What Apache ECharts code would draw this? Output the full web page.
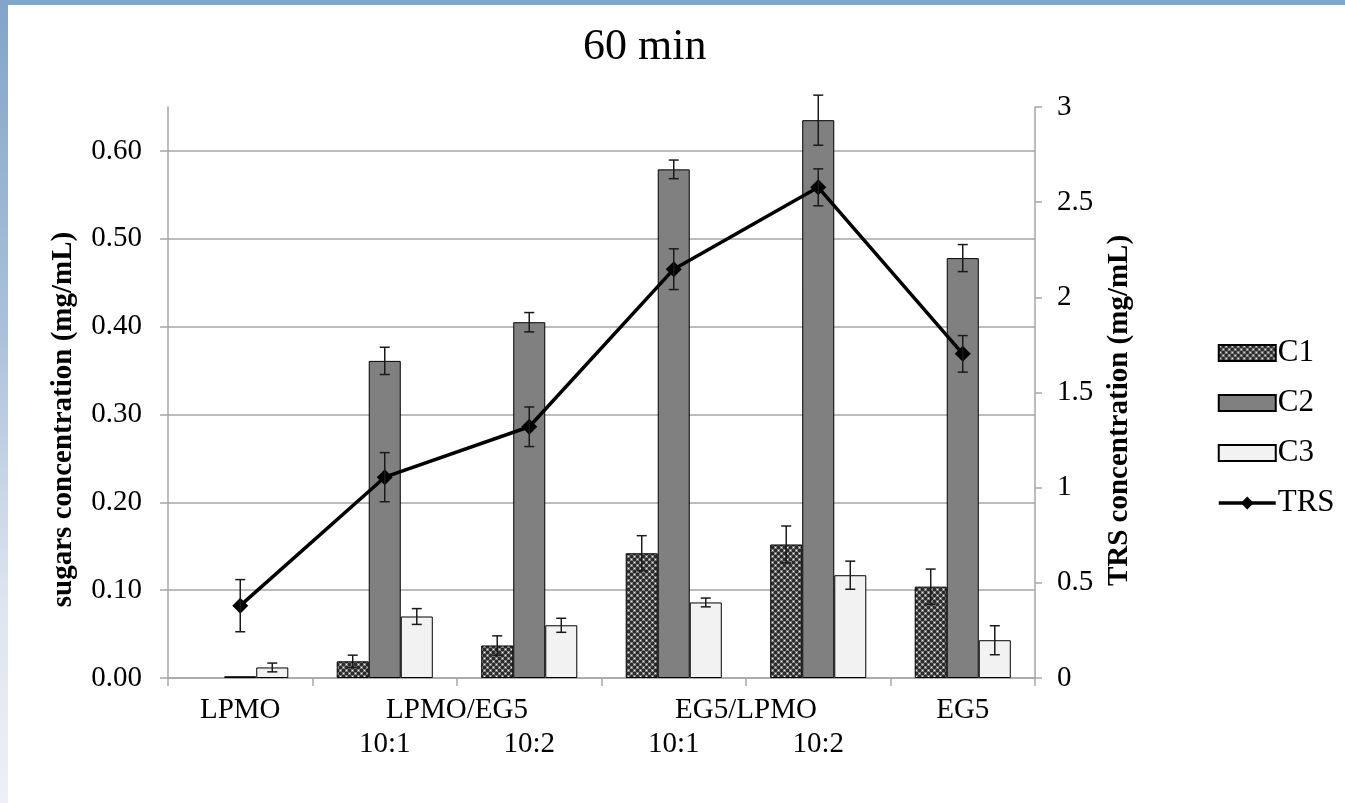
<!DOCTYPE html>
<html>
<head>
<meta charset="utf-8">
<script src="https://cdn.jsdelivr.net/npm/echarts@6/dist/echarts.min.js"></script>
<style>
  html, body { margin: 0; padding: 0; background: #fff; }
  #stripTop { position: absolute; left: 0; top: 0; width: 1345px; height: 5px; background: #81a5c9; }
  #stripLeft { position: absolute; left: 0; top: 0; width: 8px; height: 803px;
    background: linear-gradient(to bottom, #81a5c9 0%, #a9c0da 40%, #dde5f0 75%, #eef0f6 100%); }
  #chart { position: absolute; left: 0; top: 0; width: 1345px; height: 803px; }
</style>
</head>
<body>
<div id="stripTop"></div>
<div id="stripLeft"></div>
<div id="chart"></div>
<script>
// ---- data ----
const categories = ['LPMO', 'LPMO/EG5 10:1', 'LPMO/EG5 10:2', 'EG5/LPMO 10:1', 'EG5/LPMO 10:2', 'EG5'];
const ratioLabels = ['', '10:1', '10:2', '10:1', '10:2', ''];
const groupLabelPos = [0.5, 2, 4, 5.5];
const groupLabels = ['LPMO', 'LPMO/EG5', 'EG5/LPMO', 'EG5'];
const C1 = [null, 0.019, 0.037, 0.142, 0.152, 0.104];
const C1err = [0, 0.007, 0.011, 0.020, 0.021, 0.020];
const C2 = [0.002, 0.361, 0.405, 0.579, 0.635, 0.478];
const C2err = [0, 0.0155, 0.011, 0.0106, 0.0285, 0.0154];
const C3 = [0.012, 0.070, 0.060, 0.086, 0.117, 0.043];
const C3err = [0.005, 0.009, 0.008, 0.005, 0.016, 0.0165];
const TRS = [0.380, 1.055, 1.32, 2.148, 2.578, 1.703];
const TRSerr = [0.137, 0.129, 0.104, 0.107, 0.097, 0.096];
const leftTicks = [0, 0.1, 0.2, 0.3, 0.4, 0.5, 0.6];

// ---- pattern for C1 ----
const pat = document.createElement('canvas');
pat.width = 6; pat.height = 6;
const pc = pat.getContext('2d');
pc.fillStyle = '#2c2c2c'; pc.fillRect(0, 0, 6, 6);
pc.fillStyle = '#7e7e7e'; pc.fillRect(0, 0, 3, 3); pc.fillRect(3, 3, 3, 3);
pc.fillStyle = '#eeeeee'; pc.fillRect(1, 1, 1, 1); pc.fillRect(4, 4, 1, 1);

const FONT = "'Liberation Serif', 'Times New Roman', serif";
const GAP = 0.335;
const AX = '#a6a6a6';

function errSeries(name, vals, errs, k, yIdx) {
  return {
    name: name, type: 'custom', xAxisIndex: 0, yAxisIndex: yIdx, z: 5,
    silent: true, clip: false,
    data: vals.map((v, i) => [i, v === null ? 0 : v, errs[i]]),
    renderItem: function (params, api) {
      const x = api.value(0), y = api.value(1), e = api.value(2);
      if (!e) return null;
      const catW = api.size([1, 0])[0];
      const bw = catW * (1 - GAP) / 3;
      const off = k === null ? 0 : (k - 1) * bw;
      const hi = api.coord([x, y + e]);
      const lo = api.coord([x, y - e]);
      const cx = hi[0] + off;
      const cap = 5;
      const st = { stroke: '#1a1a1a', lineWidth: 1.5 };
      return {
        type: 'group',
        children: [
          { type: 'line', shape: { x1: cx, y1: hi[1], x2: cx, y2: lo[1] }, style: st },
          { type: 'line', shape: { x1: cx - cap, y1: hi[1], x2: cx + cap, y2: hi[1] }, style: st },
          { type: 'line', shape: { x1: cx - cap, y1: lo[1], x2: cx + cap, y2: lo[1] }, style: st }
        ]
      };
    }
  };
}

const chart = echarts.init(document.getElementById('chart'));
chart.setOption({
  animation: false,
  textStyle: { fontFamily: FONT, color: '#000' },
  title: {
    text: '60 min', left: 578, top: 20,
    textStyle: { fontFamily: FONT, fontSize: 44, fontWeight: 'normal', color: '#000' }
  },
  legend: {
    data: [
      { name: 'C1', icon: 'rect' }, { name: 'C2', icon: 'rect' },
      { name: 'C3', icon: 'rect' },
      { name: 'TRS', lineStyle: { width: 3.5, color: '#000' } }
    ],
    orient: 'vertical', left: 1217, top: 337, padding: 0,
    itemWidth: 57, itemHeight: 16, itemGap: 18,
    textStyle: { fontFamily: FONT, fontSize: 31, color: '#000', lineHeight: 32, padding: [0, 0, 0, -3] }
  },
  grid: { left: 168, right: 310, top: 107, bottom: 125, containLabel: false },
  xAxis: [
    {
      type: 'category', data: categories,
      axisLine: { lineStyle: { color: AX, width: 1.5 } },
      axisTick: { show: true, length: 8, lineStyle: { color: AX, width: 1.5 } },
      axisLabel: {
        interval: 0, margin: 52, fontFamily: FONT, fontSize: 29, color: '#000',
        formatter: function (v, i) { return ratioLabels[i]; }
      }
    },
    {
      type: 'value', min: 0, max: 6, interval: 0.5, position: 'bottom', offset: 0,
      axisLine: { show: false }, axisTick: { show: false }, splitLine: { show: false },
      axisLabel: {
        margin: 18, fontFamily: FONT, fontSize: 29, color: '#000',
        showMinLabel: true, showMaxLabel: true,
        formatter: function (v) {
          const j = groupLabelPos.findIndex(p => Math.abs(p - v) < 1e-6);
          return j >= 0 ? groupLabels[j] : '';
        }
      }
    }
  ],
  yAxis: [
    {
      type: 'value', min: 0, max: 0.65, interval: 0.1,
      name: 'sugars concentration (mg/mL)', nameLocation: 'middle', nameGap: 90,
      nameTextStyle: { fontFamily: FONT, fontSize: 29, fontWeight: 'bold', color: '#000', padding: [0, 54, 0, 0] },
      axisLine: { show: true, lineStyle: { color: AX, width: 1.5 } },
      axisTick: { show: true, length: 8, customValues: leftTicks, lineStyle: { color: AX, width: 1.5 } },
      splitLine: { show: true, lineStyle: { color: AX, width: 1.5 } },
      axisLabel: {
        margin: 26, fontFamily: FONT, fontSize: 29, color: '#000',
        customValues: leftTicks,
        formatter: function (v) { return v.toFixed(2); }
      }
    },
    {
      type: 'value', min: 0, max: 3, interval: 0.5, position: 'right',
      name: 'TRS concentration (mg/mL)', nameLocation: 'middle', nameGap: 70,
      nameRotate: 90,
      nameTextStyle: { fontFamily: FONT, fontSize: 29, fontWeight: 'bold', color: '#000', padding: [0, 36, 0, 0] },
      axisLine: { show: true, lineStyle: { color: AX, width: 1.5 } },
      axisTick: { show: true, length: 7, lineStyle: { color: AX, width: 1.5 } },
      splitLine: { show: false },
      axisLabel: { margin: 22, fontFamily: FONT, fontSize: 29, color: '#000' }
    }
  ],
  series: [
    {
      name: 'C1', type: 'bar', data: C1, barGap: '0%', barCategoryGap: (GAP * 100) + '%',
      itemStyle: { color: { image: pat, repeat: 'repeat' }, borderColor: '#000', borderWidth: 1 }
    },
    {
      name: 'C2', type: 'bar', data: C2,
      itemStyle: { color: '#808080', borderColor: '#000', borderWidth: 1 }
    },
    {
      name: 'C3', type: 'bar', data: C3,
      itemStyle: { color: '#f2f2f2', borderColor: '#000', borderWidth: 1 }
    },
    errSeries('C1 err', C1, C1err, 0, 0),
    errSeries('C2 err', C2, C2err, 1, 0),
    errSeries('C3 err', C3, C3err, 2, 0),
    {
      name: 'TRS', type: 'line', yAxisIndex: 1, data: TRS, z: 6,
      symbol: 'diamond', symbolSize: 16,
      lineStyle: { color: '#000', width: 3.5 },
      itemStyle: { color: '#000' }
    },
    Object.assign(errSeries('TRS err', TRS, TRSerr, null, 1), { z: 7 })
  ]
});
</script>
</body>
</html>
